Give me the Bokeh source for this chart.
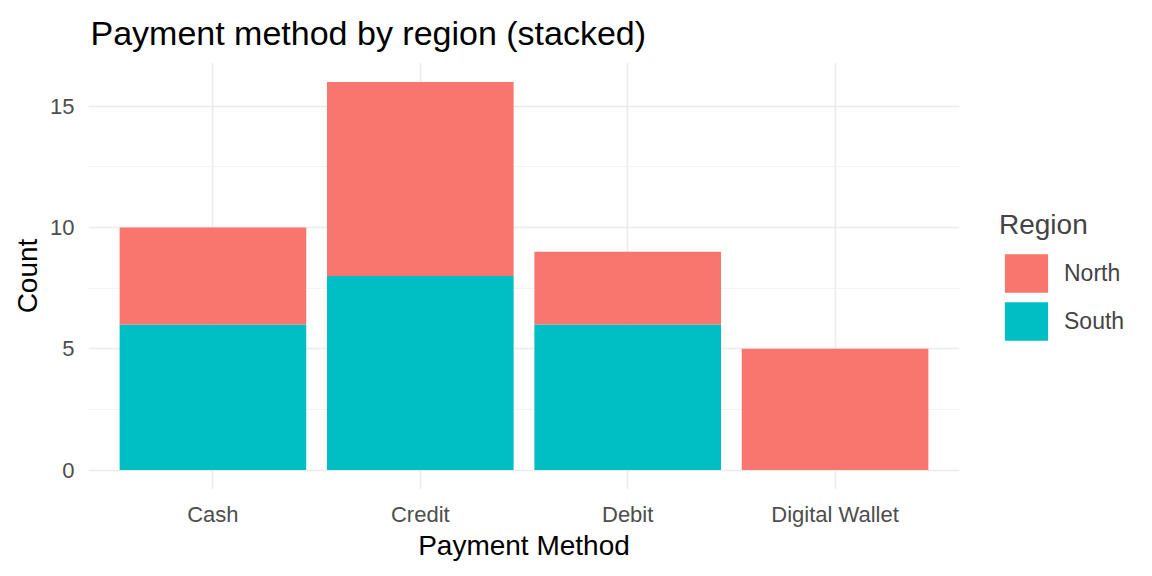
from bokeh.plotting import figure
from bokeh.models import (Range1d, FixedTicker, SingleIntervalTicker, Legend, LegendItem)
from bokeh.embed import file_html
from bokeh.resources import INLINE

methods = ["Cash", "Credit", "Debit", "Digital Wallet"]
north = [4, 8, 3, 5]
south = [6, 8, 6, 0]

FONT = "Liberation Sans"

x = list(range(1, len(methods) + 1))
data = dict(x=x, North=north, South=south)

p = figure(frame_width=871, frame_height=427, output_backend="svg", toolbar_location=None,
           x_range=Range1d(0.4, len(methods) + 0.6), y_range=Range1d(-0.8, 16.8),
           min_border_left=88, min_border_top=62, min_border_bottom=71,
           min_border_right=176)

rs = p.vbar_stack(["South", "North"], x="x", width=0.9, source=data,
                  color=["#00BFC4", "#F8766D"], line_color=None)

p.title.text = "Payment method by region (stacked)"
p.title.text_font = FONT
p.title.text_font_size = "34px"
p.title.text_font_style = "normal"
p.title.text_color = "black"
p.title.offset = 2
p.title.standoff = 22

p.xaxis.ticker = FixedTicker(ticks=x)
p.xaxis.major_label_overrides = {i: m for i, m in zip(x, methods)}
p.yaxis.ticker = SingleIntervalTicker(interval=5, num_minor_ticks=2)
p.xgrid.ticker = FixedTicker(ticks=x)

for ax in (p.xaxis, p.yaxis):
    ax.axis_line_color = None
    ax.major_tick_line_color = None
    ax.minor_tick_line_color = None
    ax.major_label_text_font = FONT
    ax.major_label_text_font_size = "22px"
    ax.major_label_text_color = "#4D4D4D"
    ax.axis_label_text_font = FONT
    ax.axis_label_text_font_size = "28px"
    ax.axis_label_text_font_style = "normal"
    ax.axis_label_text_color = "black"

p.xaxis.axis_label = "Payment Method"
p.yaxis.axis_label = "Count"
p.xaxis.major_label_standoff = 6
p.yaxis.major_label_standoff = 8
p.xaxis.axis_label_standoff = 0
p.yaxis.axis_label_standoff = 4

p.xgrid.grid_line_color = "#EBEBEB"
p.xgrid.grid_line_width = 1.5
p.ygrid.grid_line_color = "#EBEBEB"
p.ygrid.grid_line_width = 1.5
p.ygrid.minor_grid_line_color = "#F3F3F3"
p.ygrid.minor_grid_line_width = 1
p.outline_line_color = None

legend = Legend(items=[LegendItem(label="North", renderers=[rs[1]]),
                       LegendItem(label="South", renderers=[rs[0]])],
                title="Region", location=(40, 144))
legend.title_text_font = FONT
legend.title_text_font_size = "28px"
legend.title_text_font_style = "normal"
legend.title_standoff = 8
legend.label_text_font = FONT
legend.label_text_font_size = "23px"
legend.glyph_width = 54
legend.glyph_height = 48
legend.spacing = 0
legend.label_standoff = 11
legend.padding = 0
legend.margin = 0
legend.border_line_color = None
legend.background_fill_alpha = 0
p.add_layout(legend, "right")

open("out.html", "w").write(file_html(p, INLINE))
